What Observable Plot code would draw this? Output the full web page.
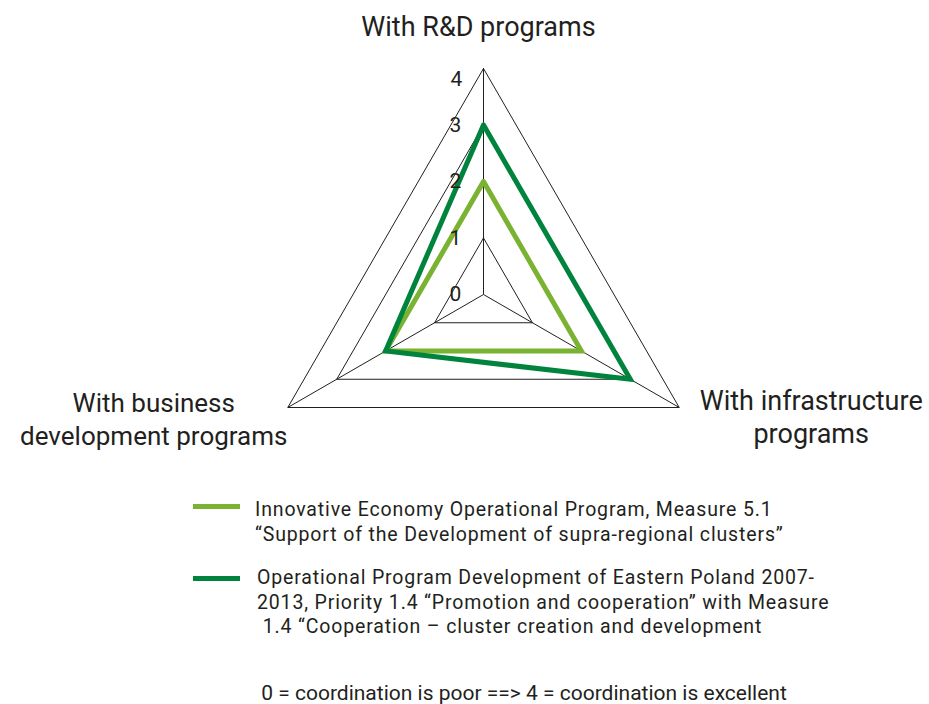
<!DOCTYPE html>
<html><head><meta charset="utf-8">
<script src="https://cdn.jsdelivr.net/npm/d3@7"></script>
<script src="https://cdn.jsdelivr.net/npm/@observablehq/plot@0.6"></script>
<style>
body{margin:0;background:#fff;overflow:hidden}
#wrap{position:relative;width:929px;height:704px;overflow:hidden;font-family:Roboto,"Noto Sans",sans-serif;color:#231f20}
#chart{position:absolute;left:0;top:0}
.leg{position:absolute;left:193px;font-family:Roboto,sans-serif;font-size:19.5px;line-height:24.5px;letter-spacing:0.85px}
.sw{position:absolute;left:0;width:47px;height:5px}
.lt{position:absolute;white-space:pre}
#foot{position:absolute;left:0;width:1048px;text-align:center;top:683px;font-size:21px;line-height:21px;white-space:nowrap}
</style></head><body><div id="wrap"><div id="chart"></div></div>
<script>
// ---- data ----
const axisLabels = ["With R&D programs", "With infrastructure\nprograms", "With business\ndevelopment programs"];
const levels = [1, 2, 3, 4];
const tickLabels = ["0", "1", "2", "3", "4"];
const seriesNames = [
  ["Innovative Economy Operational Program, Measure 5.1", "\u201cSupport of the Development of supra-regional clusters\u201d"],
  ["Operational Program Development of Eastern Poland 2007-", "2013, Priority 1.4 \u201cPromotion and cooperation\u201d with Measure", " 1.4 \u201cCooperation \u2013 cluster creation and development"]
];
const innovativeEconomy = [2, 2, 2];
const easternPoland = [3, 3, 2];
const seriesColors = ["#7ab232", "#00843d"];
const footnote = "0 = coordination is poor ==> 4 = coordination is excellent";

// ---- geometry helpers ----
const n = axisLabels.length;
const ang = i => (i % n) * 2 * Math.PI / n;
const px = (r, i) => r * Math.sin(ang(i));
const py = (r, i) => r * Math.cos(ang(i));
const maxR = d3.max(levels);

const grid = levels.flatMap(L => d3.range(n + 1).map(i => ({L, x: px(L, i), y: py(L, i)})));
const spokes = d3.range(n).map(i => ({x: px(maxR, i), y: py(maxR, i)}));
const seriesVals = [innovativeEconomy, easternPoland];
const seriesPts = seriesVals.flatMap((vals, s) => d3.range(n + 1).map(i => ({s, x: px(vals[i % n], i), y: py(vals[i % n], i)})));
const ticks = tickLabels.map(t => ({t, v: +t}));
const labels = axisLabels.map((t, i) => ({t, i, x: px(maxR, i), y: py(maxR, i)}));

// ---- layout ----
const W = 929, H = 460, cx = 483, cy = 294, unit = 56.5;
const ink = "#231f20";

const chart = Plot.plot({
  width: W, height: H, margin: 0,
  x: {domain: [-cx / unit, (W - cx) / unit], range: [0, W], axis: null},
  y: {domain: [-(H - cy) / unit, cy / unit], range: [H, 0], axis: null},
  style: {fontFamily: "Roboto, 'Noto Sans', sans-serif", color: ink, background: "white"},
  marks: [
    Plot.line(grid, {x: "x", y: "y", z: "L", stroke: ink, strokeWidth: 1, strokeLinejoin: "miter"}),
    Plot.link(spokes, {x1: 0, y1: 0, x2: "x", y2: "y", stroke: ink, strokeWidth: 1}),
    Plot.line(seriesPts, {x: "x", y: "y", z: "s", stroke: d => seriesColors[d.s], strokeWidth: 5, strokeLinejoin: "miter", strokeMiterlimit: 10}),
    Plot.text(ticks.filter(d => d.v < maxR), {x: 0, y: "v", text: "t", dx: -28, fontSize: 21, fill: ink}),
    Plot.text(ticks.filter(d => d.v === maxR), {x: 0, y: "v", text: "t", dx: -27, dy: 11, fontSize: 21, fill: ink}),
    Plot.text(labels.filter(d => d.i === 0), {x: "x", y: "y", text: "t", dx: -5, dy: -41, fontSize: 27, fill: ink}),
    Plot.text(labels.filter(d => d.i === 1), {x: "x", y: "y", text: "t", dx: 132, dy: 8, fontSize: 27, lineHeight: 1.22, fill: ink}),
    Plot.text(labels.filter(d => d.i === 2), {x: "x", y: "y", text: "t", dx: -134, dy: 10, fontSize: 26, lineHeight: 1.27, fill: ink})
  ]
});
document.getElementById("chart").appendChild(chart);

// ---- legend ----
const wrap = document.getElementById("wrap");
const legTops = [498, 566];
const swatchTops = [504, 576];
const textLefts = [62, 64];
seriesNames.forEach((lines, s) => {
  const g = document.createElement("div");
  g.className = "leg";
  g.style.top = legTops[s] + "px";
  const sw = document.createElement("div");
  sw.className = "sw";
  sw.style.top = (swatchTops[s] - legTops[s]) + "px";
  sw.style.background = seriesColors[s];
  g.appendChild(sw);
  lines.forEach((ln, k) => {
    const t = document.createElement("div");
    t.className = "lt";
    t.style.left = textLefts[s] + "px";
    t.style.top = (k * 24.5) + "px";
    t.textContent = ln;
    g.appendChild(t);
  });
  wrap.appendChild(g);
});
const f = document.createElement("div");
f.id = "foot";
f.textContent = footnote;
wrap.appendChild(f);
</script></body></html>
